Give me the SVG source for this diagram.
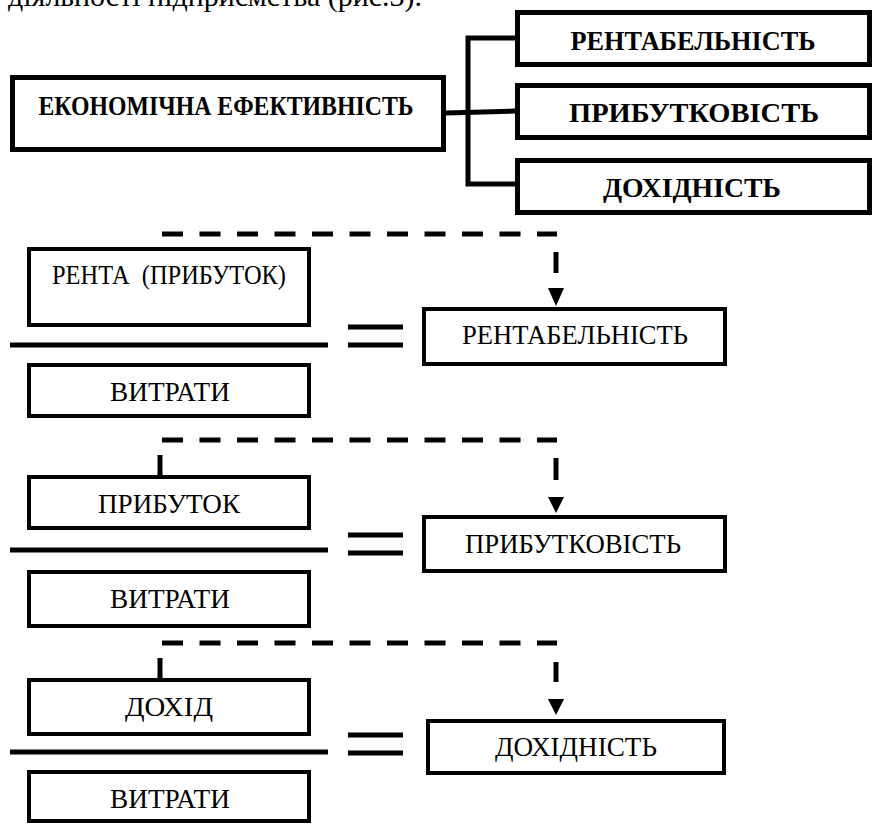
<svg xmlns="http://www.w3.org/2000/svg" width="874" height="825" viewBox="0 0 874 825">
  <style>
    .bold { fill: #fff; stroke: #000; stroke-width: 5; }
    .box { fill: #fff; stroke: #000; stroke-width: 4; }
    .ln { fill: none; stroke: #000; stroke-width: 5; }
    .dash { fill: none; stroke: #000; stroke-width: 5; stroke-dasharray: 21 16.5; }
    .head { fill: #000; }
    text { font-family: "Liberation Serif", "Times New Roman", serif; fill: #000; }
    .tb { font-size: 28px; font-weight: bold; text-anchor: middle; }
    .tr { font-size: 27px; text-anchor: middle; }
  </style>
  <rect width="874" height="825" fill="#fff"/>

  <!-- running text line above the figure -->
  <text x="8" y="6" font-size="30">діяльності підприємства (рис.3).</text>

  <!-- connectors -->
  <g id="connectors">
    <path class="ln" d="M515,38 H468 V184 H515"/>
    <path class="ln" d="M446,113 L515,111"/>

    <path class="dash" d="M162,234 H557"/>
    <path class="ln" d="M556,252 V273"/>
    <polygon class="head" points="548,288 564,288 556,306"/>
    <path class="ln" d="M10,345 H328"/>
    <path class="ln" d="M348,327 H403 M348,345 H403"/>

    <path class="dash" d="M162,440 H557"/>
    <path class="ln" d="M160,455 V475"/>
    <path class="ln" d="M556,458 V480"/>
    <polygon class="head" points="548,497 564,497 556,513"/>
    <path class="ln" d="M10,550 H328"/>
    <path class="ln" d="M348,535 H403 M348,553 H403"/>

    <path class="dash" d="M162,643 H557"/>
    <path class="ln" d="M160,658 V678"/>
    <path class="ln" d="M556,662 V682"/>
    <polygon class="head" points="548,699 564,699 556,715"/>
    <path class="ln" d="M10,752 H328"/>
    <path class="ln" d="M348,735 H403 M348,753 H403"/>
  </g>

  <!-- top block -->
  <g id="ekon">
    <rect class="bold" x="12.5" y="77.5" width="431" height="72"/>
    <text class="tb" x="226" y="115" textLength="375" lengthAdjust="spacingAndGlyphs">ЕКОНОМІЧНА ЕФЕКТИВНІСТЬ</text>
  </g>
  <g id="rent-top">
    <rect class="bold" x="517.5" y="12.5" width="352" height="52"/>
    <text class="tb" x="693" y="50" textLength="245" lengthAdjust="spacingAndGlyphs">РЕНТАБЕЛЬНІСТЬ</text>
  </g>
  <g id="prib-top">
    <rect class="bold" x="517.5" y="85.5" width="352" height="52"/>
    <text class="tb" x="694" y="122" textLength="250" lengthAdjust="spacingAndGlyphs">ПРИБУТКОВІСТЬ</text>
  </g>
  <g id="dokh-top">
    <rect class="bold" x="517.5" y="160.5" width="352" height="52"/>
    <text class="tb" x="692" y="197" textLength="178" lengthAdjust="spacingAndGlyphs">ДОХІДНІСТЬ</text>
  </g>

  <!-- rentabelnist formula -->
  <g id="renta">
    <rect class="box" x="29" y="249" width="280" height="76"/>
    <text class="tr" x="169" y="284" xml:space="preserve" textLength="234" lengthAdjust="spacingAndGlyphs">РЕНТА  (ПРИБУТОК)</text>
  </g>
  <g id="vytraty-1">
    <rect class="box" x="29" y="365" width="280" height="51"/>
    <text class="tr" x="170" y="401" textLength="120" lengthAdjust="spacingAndGlyphs">ВИТРАТИ</text>
  </g>
  <g id="rent-result">
    <rect class="box" x="424" y="309" width="301" height="55"/>
    <text class="tr" x="575" y="344" textLength="226" lengthAdjust="spacingAndGlyphs">РЕНТАБЕЛЬНІСТЬ</text>
  </g>

  <!-- prybutkovist formula -->
  <g id="prybutok">
    <rect class="box" x="29" y="477" width="280" height="51"/>
    <text class="tr" x="169" y="513" textLength="142" lengthAdjust="spacingAndGlyphs">ПРИБУТОК</text>
  </g>
  <g id="vytraty-2">
    <rect class="box" x="29" y="572" width="280" height="54"/>
    <text class="tr" x="170" y="608" textLength="120" lengthAdjust="spacingAndGlyphs">ВИТРАТИ</text>
  </g>
  <g id="prib-result">
    <rect class="box" x="424" y="517" width="301" height="54"/>
    <text class="tr" x="573" y="553" textLength="216" lengthAdjust="spacingAndGlyphs">ПРИБУТКОВІСТЬ</text>
  </g>

  <!-- dokhidnist formula -->
  <g id="dokhid">
    <rect class="box" x="29" y="680" width="280" height="54"/>
    <text class="tr" x="169" y="716" textLength="88" lengthAdjust="spacingAndGlyphs">ДОХІД</text>
  </g>
  <g id="vytraty-3">
    <rect class="box" x="29" y="772" width="280" height="49"/>
    <text class="tr" x="170" y="808" textLength="120" lengthAdjust="spacingAndGlyphs">ВИТРАТИ</text>
  </g>
  <g id="dokh-result">
    <rect class="box" x="428" y="721" width="296" height="52"/>
    <text class="tr" x="576" y="756" textLength="162" lengthAdjust="spacingAndGlyphs">ДОХІДНІСТЬ</text>
  </g>
</svg>
